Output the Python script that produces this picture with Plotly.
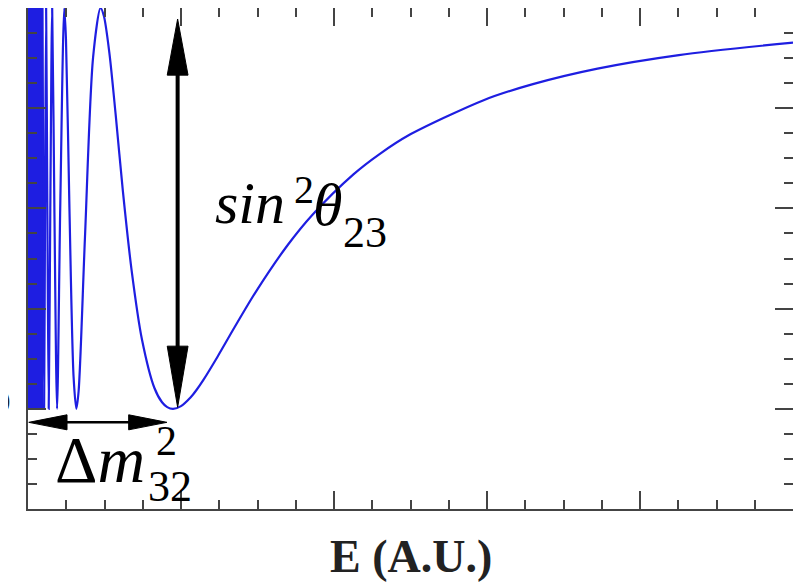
import plotly.graph_objects as go

# ---- data ----
energy = [0.0948, 0.0998, 0.1053, 0.1115, 0.1185, 0.1264, 0.1354, 0.1458, 0.158, 0.1724,
          0.190, 0.2106, 0.237, 0.2482, 0.2707, 0.2978, 0.316, 0.3309, 0.3723, 0.4254,
          0.474, 0.496, 0.532, 0.573, 0.620, 0.677, 0.7445, 0.827, 0.876, 0.91, 0.948,
          1.0, 1.0636, 1.1, 1.1454, 1.2408, 1.35, 1.489, 1.7, 1.861, 2.127, 2.3, 2.482, 2.978,
          3.3, 3.7225, 4.254, 5.0]
survival = [1.0, 0.6, 0.2, 0.6, 1.0, 0.6, 0.2, 0.6, 1.0, 0.6,
            0.2, 0.6, 1.0, 0.9375, 0.6018, 0.2644, 0.2, 0.2355, 0.5418, 0.9015,
            1.0, 0.984, 0.910, 0.787, 0.635, 0.477, 0.339, 0.241, 0.213, 0.2034, 0.2,
            0.2054, 0.2231, 0.237, 0.2572, 0.305, 0.3627, 0.4335, 0.528, 0.588, 0.668, 0.709, 0.745, 0.816,
            0.848, 0.879, 0.906, 0.931]
# unresolved fast oscillation band at low energy
band_energy = [0.0, 0.0948, 0.0948, 0.0]
band_prob = [0.2, 0.2, 1.0, 1.0]

x_range = [0, 5]
y_range = [0, 1]

E_min = 0.948      # first oscillation minimum
P_min = 0.2
P_top = 0.978
P_dm = 0.173

blue = "rgb(30,30,225)"
serif = "Liberation Serif"

fig = go.Figure()
fig.add_trace(go.Scatter(x=band_energy, y=band_prob, fill="toself", fillcolor=blue,
                         mode="lines", line=dict(color=blue, width=1),
                         hoverinfo="skip", showlegend=False))
fig.add_trace(go.Scatter(x=energy, y=survival, mode="lines",
                         line=dict(color=blue, width=2.2, shape="spline", smoothing=0.8),
                         showlegend=False))

shapes = []
# vertical double arrow
ax = E_min + 0.03
hw = 0.068
hh_top = 0.112
hh_bot = 0.125
shapes.append(dict(type="line", xref="x", yref="y", x0=ax, x1=ax,
                   y0=P_min + hh_bot - 0.01, y1=P_top - hh_top + 0.01,
                   line=dict(color="black", width=4)))
shapes.append(dict(type="path", xref="x", yref="y",
                   path=f"M {ax} {P_top} L {ax-hw} {P_top-hh_top} L {ax+hw} {P_top-hh_top} Z",
                   fillcolor="black", line=dict(color="black", width=1)))
shapes.append(dict(type="path", xref="x", yref="y",
                   path=f"M {ax} {P_min+0.003} L {ax-hw} {P_min+hh_bot} L {ax+hw} {P_min+hh_bot} Z",
                   fillcolor="black", line=dict(color="black", width=1)))
# horizontal double arrow
hx0 = 0.005
hx1 = E_min - 0.04
hl = 0.25
hv = 0.015
shapes.append(dict(type="line", xref="x", yref="y", x0=hx0 + hl - 0.02, x1=hx1 - hl + 0.02,
                   y0=P_dm, y1=P_dm, line=dict(color="black", width=2.5)))
shapes.append(dict(type="path", xref="x", yref="y",
                   path=f"M {hx0} {P_dm} L {hx0+hl} {P_dm+hv} L {hx0+hl} {P_dm-hv} Z",
                   fillcolor="black", line=dict(color="black", width=1)))
shapes.append(dict(type="path", xref="x", yref="y",
                   path=f"M {hx1} {P_dm} L {hx1-hl} {P_dm+hv} L {hx1-hl} {P_dm-hv} Z",
                   fillcolor="black", line=dict(color="black", width=1)))


def label(x, y, text, size, xref="x", yref="y", xanchor="left", color="black"):
    return dict(xref=xref, yref=yref, x=x, y=y, xanchor=xanchor, yanchor="middle",
                text=text, showarrow=False, borderpad=0,
                font=dict(family=serif, size=size, color=color))


annotations = [
    # sin^2 theta_23
    label(1.215, 0.610, "<i>sin</i>", 60),
    label(1.732, 0.638, "2", 40),
    label(1.858, 0.606, "<i>θ</i>", 60),
    label(2.055, 0.552, "23", 44),
    # Delta m^2_32
    label(0.170, 0.098, "Δ<i>m</i>", 66),
    label(0.830, 0.136, "2", 42),
    label(0.778, 0.044, "32", 44),
    # axis title
    label(0.5, -0.094, "<b>E (A.U.)</b>", 46, xref="paper", yref="paper",
          xanchor="center", color="#222"),
    # clipped character at the far left
    label(-0.021, 0.215, "O", 40, xref="paper", xanchor="right", color="#222"),
]

axis_common = dict(showline=True, linecolor="#444", linewidth=2, mirror="ticks",
                   ticks="inside", ticklen=18, tickwidth=2, tickcolor="#444",
                   showticklabels=False, showgrid=False, zeroline=False)

fig.update_layout(
    width=801, height=582,
    margin=dict(l=20, r=16, t=0, b=81, autoexpand=False),
    paper_bgcolor="white", plot_bgcolor="white",
    xaxis=dict(range=x_range, dtick=1, tick0=0,
               minor=dict(dtick=0.25, ticks="inside", ticklen=9, tickcolor="#444", tickwidth=1.5),
               **axis_common),
    yaxis=dict(range=y_range, dtick=0.2, tick0=0,
               minor=dict(dtick=0.05, ticks="inside", ticklen=9, tickcolor="#444", tickwidth=1.5),
               **axis_common),
    shapes=shapes,
    annotations=annotations,
    showlegend=False,
)

fig.write_html("out.html")
